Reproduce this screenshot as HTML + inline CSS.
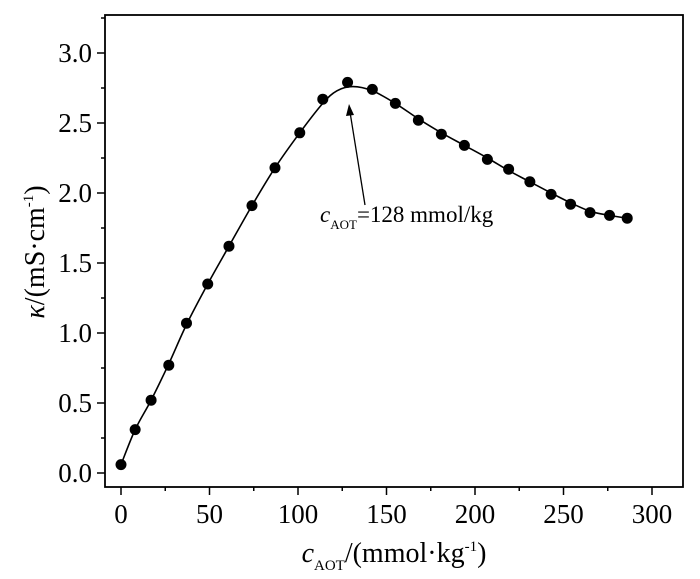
<!DOCTYPE html>
<html><head><meta charset="utf-8"><style>
body{margin:0;background:#fff}
svg{display:block;font-family:"Liberation Serif",serif}
</style></head><body>
<svg id="chart" width="700" height="579" viewBox="0 0 700 579">
<rect x="105" y="15" width="578" height="472" fill="none" stroke="#000" stroke-width="1.8"/>
<g id="axes"></g>
<g id="marks"></g>
<g>
<line x1="365" y1="205" x2="350" y2="112" stroke="#000" stroke-width="1.3"/>
<polygon points="349,104 346,116 354,115" fill="#000"/>
<text x="320" y="222" font-size="23"><tspan font-style="italic">c</tspan><tspan font-size="13" dy="7">AOT</tspan><tspan dy="-7">=128 mmol/kg</tspan></text>
</g>
<text x="394" y="562" font-size="28" text-anchor="middle"><tspan font-style="italic">c</tspan><tspan font-size="15" dy="8">AOT</tspan><tspan dy="-8">/(mmol·kg</tspan><tspan font-size="15" dy="-11">-1</tspan><tspan dy="11">)</tspan></text>
<text transform="translate(44,252) rotate(-90)" font-size="28" text-anchor="middle"><tspan font-style="italic">κ</tspan>/(mS·cm<tspan font-size="15" dy="-11">-1</tspan><tspan dy="11">)</tspan></text>
</svg>
<script>
const xs=[0,8,17,27,37,49,61,74,87,101,114,128,142,155,168,181,194,207,219,231,243,254,265,276,286];
const ys=[0.06,0.31,0.52,0.77,1.07,1.35,1.62,1.91,2.18,2.43,2.67,2.79,2.74,2.64,2.52,2.42,2.34,2.24,2.17,2.08,1.99,1.92,1.86,1.84,1.82];
const fitX=[0,8,17,27,37,49,61,74,87,101,114,122,131,142,155,168,181,194,207,219,231,243,254,265,276,286];
const fitY=[0.06,0.31,0.52,0.78,1.06,1.35,1.62,1.91,2.18,2.43,2.64,2.73,2.76,2.73,2.64,2.53,2.43,2.34,2.25,2.16,2.08,2.0,1.93,1.87,1.84,1.82];
const xTicks=[0,50,100,150,200,250,300];
const yTicks=[0.0,0.5,1.0,1.5,2.0,2.5,3.0];
const X=v=>121+v*(652-121)/300;
const Y=v=>473-v*140;
const NS="http://www.w3.org/2000/svg";
const axes=document.getElementById('axes'),marks=document.getElementById('marks');
function mk(t,a,p){const e=document.createElementNS(NS,t);for(const k in a)e.setAttribute(k,a[k]);p.appendChild(e);return e;}
for(let v=0;v<=300;v+=25){const major=v%50===0;
const t=mk('line',{x1:X(v),x2:X(v),y1:487,y2:major?495:491,stroke:'#000','stroke-width':1.5},axes);

}
xTicks.forEach(v=>{const t=mk('text',{x:X(v),y:523,'font-size':27,'text-anchor':'middle'},axes);t.textContent=v;

});
for(let i=0;i<=13;i++){const v=i*0.25;if(Y(v)<15)continue;const major=i%2===0;
const t=mk('line',{x1:105,x2:major?97:101,y1:Y(v),y2:Y(v),stroke:'#000','stroke-width':1.5},axes);

}
yTicks.forEach(v=>{const t=mk('text',{x:92,y:Y(v)+9,'font-size':27,'text-anchor':'end'},axes);t.textContent=v.toFixed(1);

});
const P=fitX.map((x,i)=>[X(x),Y(fitY[i])]);
let d='M'+P[0][0]+','+P[0][1];
for(let i=0;i<P.length-1;i++){const p0=P[Math.max(0,i-1)],p1=P[i],p2=P[i+1],p3=P[Math.min(P.length-1,i+2)];
d+=' C'+(p1[0]+(p2[0]-p0[0])/6)+','+(p1[1]+(p2[1]-p0[1])/6)+' '+(p2[0]-(p3[0]-p1[0])/6)+','+(p2[1]-(p3[1]-p1[1])/6)+' '+p2[0]+','+p2[1];}
const line=mk('path',{d:d,fill:'none',stroke:'#000','stroke-width':1.6},marks);


xs.forEach((x,i)=>{const c=mk('circle',{cx:X(x),cy:Y(ys[i]),r:5.5,fill:'#000'},marks);

});
</script>
</body></html>
